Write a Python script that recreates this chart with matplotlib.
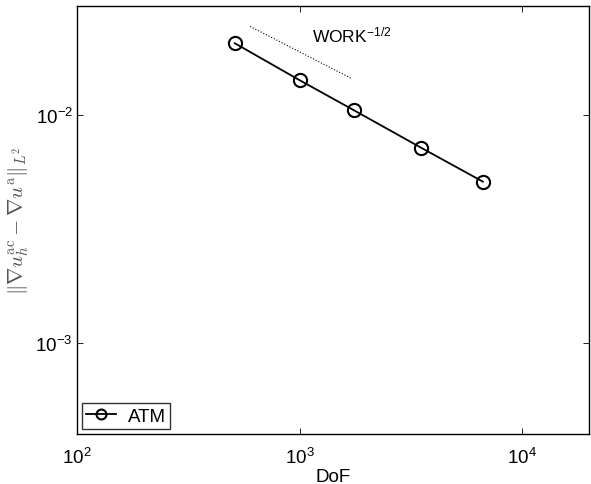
import numpy as np
import matplotlib
matplotlib.use('Agg')
import matplotlib.pyplot as plt
from matplotlib.ticker import LogLocator, NullLocator

plt.rcParams['font.family'] = ['Liberation Sans', 'DejaVu Sans']
plt.rcParams['mathtext.fontset'] = 'custom'
plt.rcParams['mathtext.rm'] = 'Liberation Sans'
plt.rcParams['mathtext.it'] = 'Liberation Sans:italic'
plt.rcParams['mathtext.bf'] = 'Liberation Sans:bold'
plt.rcParams['mathtext.sf'] = 'Liberation Sans'

# ATM data (DoF vs error)
dof = [512, 1000, 1750, 3520, 6670]
err = [0.0206, 0.0142, 0.0105, 0.00718, 0.0051]

# reference slope WORK^{-1/2}
ref_x = [600, 1710]
ref_y0 = 0.0244

fig = plt.figure(figsize=(5.91, 4.85), dpi=100)
ax = fig.add_axes([0.1303, 0.1031, 0.8663, 0.8825])

ax.loglog(dof, err, '-o', color='black', lw=1.3, ms=9.5, mew=1.5,
          mfc='none', label='ATM')

rx = np.array(ref_x, dtype=float)
ax.loglog(rx, ref_y0 * (rx / rx[0]) ** -0.5, ':', color='black', lw=0.8)
ax.text(1140, 0.0225, r'WORK$^{\mathrm{-1/2}}$', fontsize=12.5, va='center')

ax.set_xlim(100, 20000)
ax.set_ylim(4e-4, 3e-2)
ax.xaxis.set_major_locator(LogLocator(base=10, numticks=10))
ax.yaxis.set_major_locator(LogLocator(base=10, numticks=10))
ax.xaxis.set_minor_locator(NullLocator())
ax.yaxis.set_minor_locator(NullLocator())
ax.tick_params(which='both', direction='in', top=True, right=True,
               length=4, width=0.6, labelsize=13.5, pad=3)
ax.tick_params(axis='x', pad=9)
for s in ax.spines.values():
    s.set_linewidth(1.0)

ax.set_xlabel('DoF', fontsize=13.5, labelpad=1)
yl = ax.set_ylabel(r'$\Vert\nabla u_h^{\rm ac} - \nabla u^{\rm a}\Vert_{L^2}$',
                   fontsize=15, color='#555555', labelpad=3)
yl.set_math_fontfamily('cm')

leg = ax.legend(loc='lower left', fontsize=13.5, fancybox=False,
                edgecolor='black', borderaxespad=0.25, handlelength=1.6,
                borderpad=0.25, handletextpad=0.6, markerscale=0.75)
leg.get_frame().set_linewidth(1.0)

fig.savefig('out.png', dpi=100)
